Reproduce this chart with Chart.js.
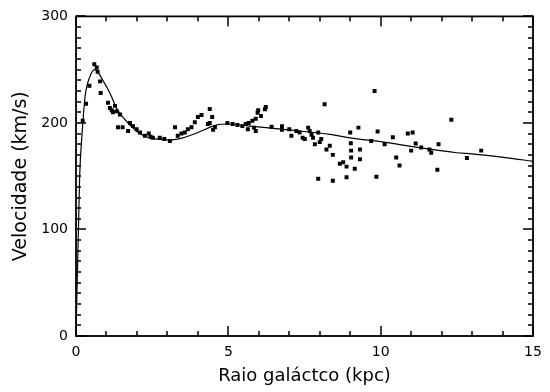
<!DOCTYPE html>
<html>
<head>
<meta charset="utf-8">
<title>Curva de rotação galáctica</title>
<script src="https://cdn.jsdelivr.net/npm/chart.js@4"></script>
<style>
  html, body { margin: 0; padding: 0; background: #fff; }
  #wrap { width: 550px; height: 392px; }
</style>
</head>
<body>
<div id="wrap"><canvas id="rotChart"></canvas></div>
<script>
// Galactic rotation curve — model line + observed points

const X_TICKS = [0, 5, 10, 15];
const Y_TICKS = [0, 100, 200, 300];

// model curve (kpc, km/s)
const curveR = [0, 0.03, 0.08, 0.12, 0.2, 0.3, 0.45, 0.62, 0.9, 1.13, 1.33, 1.55, 2.0, 2.3, 2.6, 3.1, 3.5, 4.0, 4.6, 5.0, 5.7, 6.8, 8.4, 9.0, 10.1, 11.2, 12.5, 13.0, 14.1, 15];
const curveV = [0, 40, 100, 150, 190, 225, 243, 250, 239, 227, 214, 205, 192, 187, 185, 184, 186, 191, 198, 199, 197, 194, 189, 186, 182, 177, 172, 171, 167.5, 164];

// observed points (kpc, km/s)
const obsR = [
  0.22, 0.33, 0.44, 0.60, 0.68, 0.71, 0.79, 0.81, 1.05, 1.11, 1.17, 1.21, 1.28, 1.33, 1.44, 1.38, 1.53, 1.71, 1.77, 1.87,
  1.99, 2.10, 2.26, 2.39, 2.52, 2.45, 2.75, 2.90, 3.08, 3.25, 3.34, 3.46, 3.57, 3.67, 3.79, 3.90, 4.00, 4.12, 4.39, 4.47,
  4.39, 4.33, 4.56, 4.50, 4.97, 5.14, 5.30, 5.46, 5.57, 5.67, 5.79, 5.90, 5.96, 5.84, 5.98, 6.20, 6.23, 6.07, 5.64, 5.90,
  6.42, 6.76, 6.76, 7.00, 7.07, 7.23, 7.34, 7.44, 7.51, 7.62, 7.67, 7.73, 7.78, 7.95, 8.05, 7.84, 8.00, 8.16, 8.33, 8.22,
  8.43, 8.66, 8.77, 8.88, 7.95, 8.43, 8.88, 9.15, 9.02, 9.03, 9.03, 9.32, 9.32, 9.27, 9.00, 9.80, 9.69, 9.90, 10.13, 10.40,
  10.51, 10.62, 9.86, 10.89, 11.05, 11.15, 11.00, 11.33, 11.60, 11.66, 11.90, 11.86, 12.32, 12.83, 13.30,
];
const obsV = [
  202, 218, 235, 255, 252, 248, 239, 228, 219, 214, 212, 210, 216, 211, 208, 196, 196, 192.5, 200, 197,
  194, 191, 188, 190, 186, 187, 186, 185, 183, 196, 188, 190, 191, 194, 196, 200.7, 205.6, 207.5, 213, 205.6,
  200, 199, 196, 193.5, 200, 199, 198, 197, 199, 200, 202, 204, 209.6, 195.6, 212, 212.8, 215, 206.5, 194, 192.5,
  196.5, 197, 193.5, 194, 188, 192.5, 191, 186, 185, 195.6, 192.5, 189, 186, 191, 185, 180, 182, 217.5, 178.5, 175,
  170, 161.7, 163, 159, 147.7, 145.8, 149, 157, 181, 174, 167.6, 166, 175, 195.6, 191, 230, 183, 192, 180, 186.5,
  167.6, 160, 149.5, 190, 191, 180.6, 174, 177, 175, 172, 180, 156, 203, 167, 174,
];

const INK = '#000';
const FONT = "'DejaVu Sans', 'Open Sans', sans-serif";

// frame with inward major/minor ticks on all four sides (IDL style)
const frameTicks = {
  id: 'frameTicks',
  afterDraw(chart) {
    const ctx = chart.ctx;
    const a = chart.chartArea;
    const sx = chart.scales.x;
    const sy = chart.scales.y;
    const w = 1.5;
    ctx.save();
    ctx.fillStyle = INK;
    for (let v = 0; v <= 15; v++) {
      const px = Math.round(sx.getPixelForValue(v));
      const len = X_TICKS.indexOf(v) >= 0 ? 10 : 5;
      ctx.fillRect(px - w / 2, a.bottom - len, w, len);
      ctx.fillRect(px - w / 2, a.top, w, len);
    }
    for (let v = 0; v <= 300; v += 10) {
      const py = Math.round(sy.getPixelForValue(v));
      const len = Y_TICKS.indexOf(v) >= 0 ? 10 : 5;
      ctx.fillRect(a.left, py - w / 2, len, w);
      ctx.fillRect(a.right - len, py - w / 2, len, w);
    }
    ctx.strokeStyle = INK;
    ctx.lineWidth = 1.8;
    ctx.strokeRect(a.left, a.top, a.right - a.left, a.bottom - a.top);
    ctx.restore();
  },
};

new Chart(document.getElementById('rotChart'), {
  type: 'scatter',
  data: {
    datasets: [{
      type: 'line',
      label: 'Modelo',
      data: curveR.map((r, i) => ({ x: r, y: curveV[i] })),
      borderColor: INK,
      borderWidth: 1.2,
      pointRadius: 0,
      fill: false,
      cubicInterpolationMode: 'monotone',
    }, {
      label: 'Observações',
      data: obsR.map((r, i) => ({ x: r, y: obsV[i] })),
      pointStyle: 'rect',
      pointRadius: 2.8,
      backgroundColor: INK,
      borderWidth: 0,
    }],
  },
  options: {
    responsive: true,
    maintainAspectRatio: false,
    animation: false,
    layout: { padding: { top: 15, right: 17, left: 0, bottom: 0 } },
    plugins: { legend: { display: false }, tooltip: { enabled: false } },
    scales: {
      x: {
        type: 'linear', min: 0, max: 15,
        grid: { display: false, drawTicks: false },
        border: { display: false },
        ticks: { stepSize: 5, padding: 8, color: INK, font: { family: FONT, size: 14 }, maxRotation: 0 },
        title: { display: true, text: 'Raio galáctco (kpc)', color: INK, font: { family: FONT, size: 18 }, padding: { top: 0, bottom: 5 } },
        afterFit: s => { s.height = 56; },
      },
      y: {
        type: 'linear', min: 0, max: 300,
        grid: { display: false, drawTicks: false },
        border: { display: false },
        ticks: { stepSize: 100, padding: 8, color: INK, font: { family: FONT, size: 14 } },
        title: { display: true, text: 'Velocidade (km/s)', color: INK, font: { family: FONT, size: 19 }, padding: { top: 10, bottom: 0 } },
        afterFit: s => { s.width = 76; },
      },
    },
  },
  plugins: [frameTicks],
});
</script>
</body>
</html>
